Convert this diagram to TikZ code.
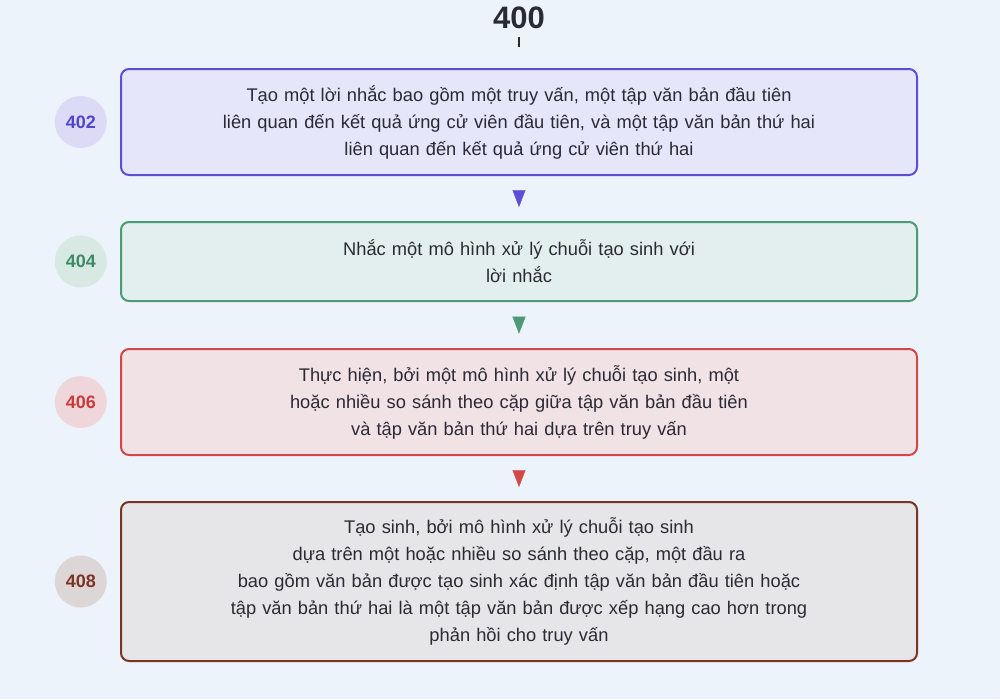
\documentclass[tikz,border=0pt]{standalone}
\usepackage{fontspec}
\setmainfont{Liberation Sans}
\usetikzlibrary{positioning, calc, arrows.meta, decorations.markings}
\tikzset{
    Link/.style = {
        draw=none,
        decoration={
            markings,
            mark=at position 0.69 with {
                \arrow[#1]{Triangle[width=13pt, length=17pt]}
                }
            },
        postaction = {decorate}
    },
    Link/.default={black}
}
\tikzset{
Step/.style={
  rounded corners=8pt,
  line width=2pt,
  text width=796pt,
  align=center,
  inner sep=0pt,
  font=\fontsize{18.3pt}{27pt}\selectfont,
  text=textCol,
  },
Num/.style={
  circle,
  minimum size=52pt,
  inner sep=0pt,
  font=\bfseries\fontsize{18pt}{20pt}\selectfont,
  }
}
\definecolor{bgFill}{HTML}{EDF3FA}
\definecolor{textCol}{HTML}{2A2A35}
\definecolor{aLine}{HTML}{5B4FD8}
\definecolor{aFill}{HTML}{E5E6FA}
\definecolor{aNum}{HTML}{DCDAF5}
\definecolor{aText}{HTML}{4F46C8}
\definecolor{bLine}{HTML}{4B9A74}
\definecolor{bFill}{HTML}{E3EFEE}
\definecolor{bNum}{HTML}{D8E8E2}
\definecolor{bText}{HTML}{3E8A66}
\definecolor{cLine}{HTML}{D44747}
\definecolor{cFill}{HTML}{F1E2E6}
\definecolor{cNum}{HTML}{EFD6DA}
\definecolor{cText}{HTML}{C83C3C}
\definecolor{dLine}{HTML}{7B3322}
\definecolor{dFill}{HTML}{E6E5E8}
\definecolor{dNum}{HTML}{DDD6D7}
\definecolor{dText}{HTML}{7B3322}

\begin{document}
\begin{tikzpicture}[x=1pt, y=1pt]
    \fill[bgFill] (0,0) rectangle (1000,-699);
    \useasboundingbox (0,0) rectangle (1000,-699);

    % title
    \node[font=\bfseries\fontsize{31pt}{33pt}\selectfont, text=textCol] (title) at (519,-18) {400};
    \coordinate (tick) at (519,-47);
    \draw[textCol, line width=1.2pt] (519,-37) -- (tick);

    % steps
    \node[Step, draw=aLine, fill=aFill, minimum height=106pt] (s402) at (519,-122)
        {Tạo một lời nhắc bao gồm một truy vấn, một tập văn bản đầu tiên\\
         liên quan đến kết quả ứng cử viên đầu tiên, và một tập văn bản thứ hai\\
         liên quan đến kết quả ứng cử viên thứ hai};
    \node[Step, below=45pt of s402, draw=bLine, fill=bFill, minimum height=79pt] (s404)
        {Nhắc một mô hình xử lý chuỗi tạo sinh với\\
         lời nhắc};
    \node[Step, below=46pt of s404, draw=cLine, fill=cFill, minimum height=106pt] (s406)
        {Thực hiện, bởi một mô hình xử lý chuỗi tạo sinh, một\\
         hoặc nhiều so sánh theo cặp giữa tập văn bản đầu tiên\\
         và tập văn bản thứ hai dựa trên truy vấn};
    \node[Step, below=45pt of s406, draw=dLine, fill=dFill, minimum height=159pt] (s408)
        {Tạo sinh, bởi mô hình xử lý chuỗi tạo sinh\\
         dựa trên một hoặc nhiều so sánh theo cặp, một đầu ra\\
         bao gồm văn bản được tạo sinh xác định tập văn bản đầu tiên hoặc\\
         tập văn bản thứ hai là một tập văn bản được xếp hạng cao hơn trong\\
         phản hồi cho truy vấn};

    % step numbers
    \node[Num, left=13pt of s402, fill=aNum, text=aText] (n402) {402};
    \node[Num, left=13pt of s404, fill=bNum, text=bText] (n404) {404};
    \node[Num, left=13pt of s406, fill=cNum, text=cText] (n406) {406};
    \node[Num, left=13pt of s408, fill=dNum, text=dText] (n408) {408};

    % arrows
    \draw[Link=aLine] (s402.south) -- (s404.north);
    \draw[Link=bLine] (s404.south) -- (s406.north);
    \draw[Link=cLine] (s406.south) -- (s408.north);
\end{tikzpicture}
\end{document}
